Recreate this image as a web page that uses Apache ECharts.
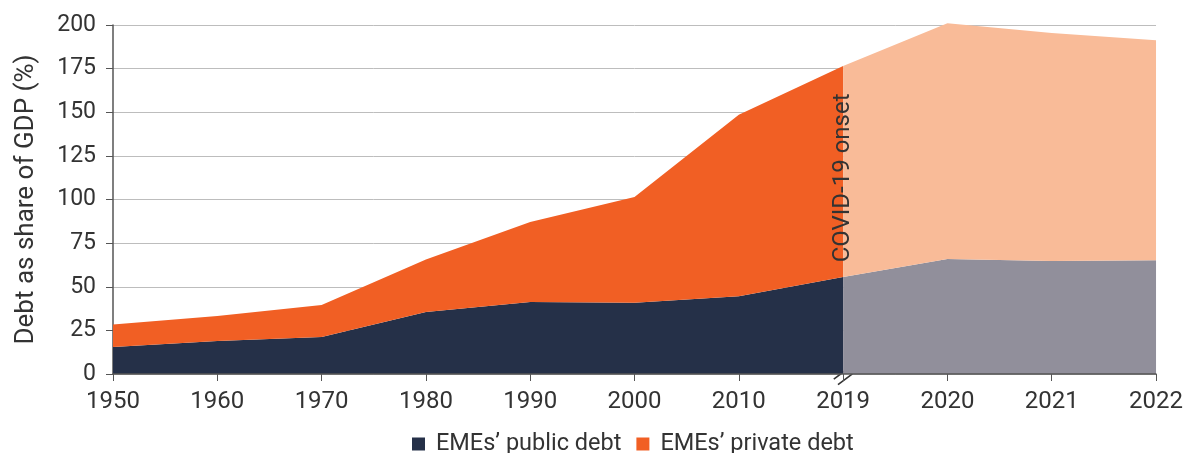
<!DOCTYPE html>
<html>
<head>
<meta charset="utf-8">
<script src="https://cdn.jsdelivr.net/npm/echarts@6/dist/echarts.min.js"></script>
<style>html,body{margin:0;padding:0;background:#fff}#c{width:1186px;height:453px}</style>
</head>
<body>
<div id="c"></div>
<script>
const years = ['1950','1960','1970','1980','1990','2000','2010','2019','2020','2021','2022'];
const publicDebt = [15.5, 18.9, 21.2, 35.5, 41.3, 40.9, 44.5, 55.6, 65.9, 64.8, 65.2];
const totalDebt = [28.3, 33.2, 39.5, 65.6, 87.1, 101.4, 148.6, 176.5, 201.0, 195.4, 191.2];
const privateDebt = totalDebt.map((t, i) => +(t - publicDebt[i]).toFixed(1));
const yTicks = [0, 25, 50, 75, 100, 125, 150, 175, 200];
const splitIndex = 7; // 2019, COVID-19 onset

const pre = arr => arr.map((v, i) => i <= splitIndex ? v : null);
const post = arr => arr.map((v, i) => i >= splitIndex ? v : null);

const txt = '#333333';
const font = 'Roboto';
const chart = echarts.init(document.getElementById('c'), null, {renderer: 'canvas'});
const areaSeries = (name, data, stack, color) => ({
  name, type: 'line', stack, data, symbol: 'none', showSymbol: false, clip: false,
  lineStyle: {width: 0, color}, itemStyle: {color},
  areaStyle: {color, opacity: 1}, silent: true, z: 2
});
chart.setOption({
  animation: false,
  grid: {left: 113, right: 29, top: 25, bottom: 79, containLabel: false},
  legend: {
    data: ['EMEs’ public debt', 'EMEs’ private debt'],
    left: 412, top: 431, padding: 0, icon: 'rect', itemWidth: 13, itemHeight: 13, itemGap: 15,
    textStyle: {fontFamily: font, fontSize: 23.5, lineHeight: 26, color: txt, padding: [0, 0, 0, 6]}
  },
  xAxis: {
    type: 'category', data: years, boundaryGap: false,
    axisLine: {lineStyle: {color: '#555', width: 1.5}},
    axisTick: {length: 7, lineStyle: {color: '#555'}, alignWithLabel: true},
    axisLabel: {fontFamily: font, fontSize: 24, color: txt, margin: 16},
    splitLine: {show: false}, z: 5
  },
  yAxis: {
    type: 'value', min: yTicks[0], max: yTicks[yTicks.length - 1], interval: 25,
    name: 'Debt as share of GDP (%)', nameLocation: 'middle', nameGap: 74,
    nameTextStyle: {fontFamily: font, fontSize: 26, color: txt},
    axisLine: {show: true, lineStyle: {color: '#555', width: 1.5}},
    axisTick: {show: true, length: 7, lineStyle: {color: '#555'}},
    axisLabel: {fontFamily: font, fontSize: 23, color: txt, margin: 17},
    splitLine: {lineStyle: {color: '#bdbdbd', width: 1}}
  },
  series: [
    areaSeries('EMEs’ public debt', pre(publicDebt), 'pre', '#253048'),
    areaSeries('EMEs’ private debt', pre(privateDebt), 'pre', '#F15F24'),
    areaSeries('public-post', post(publicDebt), 'post', '#918F9B'),
    areaSeries('private-post', post(privateDebt), 'post', '#F9BB98')
  ]
});

function decorate() {
  const p0 = chart.convertToPixel({xAxisIndex: 0, yAxisIndex: 0}, [splitIndex, 0]);
  const pTxt = chart.convertToPixel({xAxisIndex: 0, yAxisIndex: 0}, [splitIndex, 64]);
  const cx = p0[0], cy = p0[1] + 2.5;
  chart.setOption({
    graphic: [
      {type: 'text', x: cx, y: pTxt[1], rotation: Math.PI / 2,
       style: {text: 'COVID-19 onset', fontFamily: font, fontSize: 24, fill: txt,
               align: 'left', verticalAlign: 'middle'}, z: 100},
      {type: 'group', x: cx, y: cy, rotation: -0.93, z: 100, children: [
        {type: 'rect', shape: {x: -3.5, y: -9, width: 7, height: 18}, style: {fill: '#fff'}},
        {type: 'line', shape: {x1: -3.5, y1: -9, x2: -3.5, y2: 9}, style: {stroke: '#333', lineWidth: 1.6}},
        {type: 'line', shape: {x1: 3.5, y1: -9, x2: 3.5, y2: 9}, style: {stroke: '#333', lineWidth: 1.6}}
      ]}
    ]
  });
}
decorate();
</script>
</body>
</html>
